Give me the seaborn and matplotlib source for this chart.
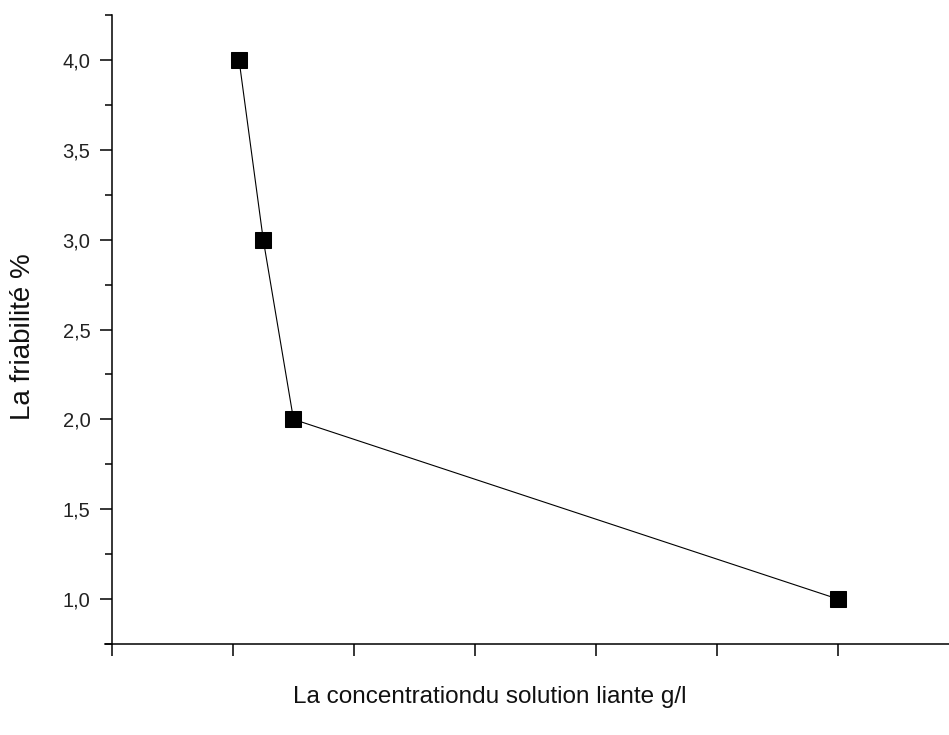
import matplotlib
matplotlib.use("Agg")
import matplotlib.pyplot as plt
import seaborn as sns
import pandas as pd
import numpy as np

# data
concentration = [1.05, 1.25, 1.5, 6.0]
friabilite = [4.0, 3.0, 2.0, 1.0]
y_ticks = [1.0, 1.5, 2.0, 2.5, 3.0, 3.5, 4.0]
y_tick_labels = ["1,0", "1,5", "2,0", "2,5", "3,0", "3,5", "4,0"]
x_ticks = [0, 1, 2, 3, 4, 5, 6, 7]

sns.set_style("ticks")
plt.rcParams['font.family'] = ['Liberation Sans', 'DejaVu Sans']

df = pd.DataFrame({"x": concentration, "y": friabilite})

fig = plt.figure(figsize=(9.49, 7.35), dpi=100)
ax = fig.add_axes([112/949, 91/735, 847/949, 629/735])

sns.lineplot(data=df, x="x", y="y", ax=ax, color="black", linewidth=0.8,
             marker="s", markersize=11, markeredgecolor="black",
             markerfacecolor="black", sort=False)

ax.set_xlim(0, 7)
ax.set_ylim(0.75, 4.25)
ax.set_xticks(x_ticks)
ax.set_xticklabels([])
ax.set_yticks(y_ticks)
ax.set_yticklabels(y_tick_labels)
ax.set_yticks(np.arange(0.75, 4.26, 0.25), minor=True)

for s in ["top", "right"]:
    ax.spines[s].set_visible(False)
for s in ["left", "bottom"]:
    ax.spines[s].set_linewidth(1.1)
    ax.spines[s].set_color("black")
ax.spines["bottom"].set_bounds(-0.06, 7)

ax.tick_params(axis="both", which="major", length=8.6, width=1.1, color="black",
               labelsize=14.5, pad=7, labelcolor="#222222", direction="out")
ax.tick_params(axis="y", which="minor", length=5, width=1.1, color="black")
ax.tick_params(axis="x", which="minor", length=0)

ax.set_xlabel("La concentrationdu solution liante g/l", fontsize=17.5, color="#111111")
ax.set_ylabel("La friabilité %", fontsize=20, color="#111111")
ax.xaxis.set_label_coords((490 - 112) / 847, -(686 - 644) / 629)
ax.yaxis.set_label_coords((36 - 112) / 847, (644 - 337) / 629)

fig.savefig("out.png", dpi=100)
